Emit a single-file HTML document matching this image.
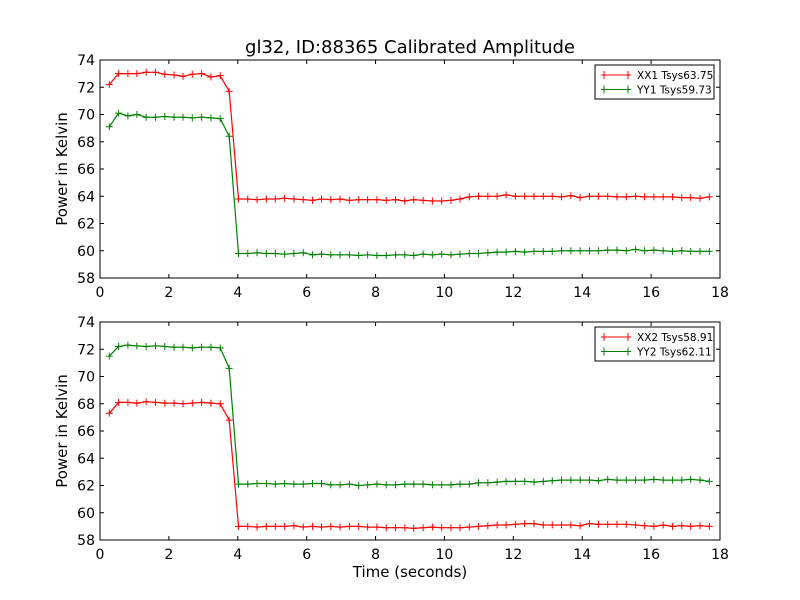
<!DOCTYPE html>
<html><head><meta charset="utf-8"><style>body{margin:0;background:#fff}svg{display:block;font-family:"DejaVu Sans","Liberation Sans",sans-serif}</style></head>
<body>
<svg id="chart" width="800" height="600" xmlns="http://www.w3.org/2000/svg">
<rect width="800" height="600" fill="#fff"/>
</svg>
<script>
const times=[0.27,0.54,0.81,1.07,1.34,1.61,1.88,2.15,2.41,2.68,2.95,3.22,3.49,3.75,4.02,4.29,4.56,4.83,5.09,5.36,5.63,5.90,6.17,6.43,6.70,6.97,7.24,7.51,7.77,8.04,8.31,8.58,8.85,9.11,9.38,9.65,9.92,10.19,10.45,10.72,10.99,11.26,11.53,11.79,12.06,12.33,12.60,12.87,13.13,13.40,13.67,13.94,14.21,14.47,14.74,15.01,15.28,15.55,15.81,16.08,16.35,16.62,16.89,17.15,17.42,17.69];
const xx1=[72.2,73.0,73.0,73.0,73.1,73.1,72.95,72.9,72.8,72.95,73.0,72.75,72.85,71.7,63.8,63.8,63.75,63.8,63.8,63.85,63.8,63.75,63.7,63.8,63.75,63.8,63.7,63.75,63.75,63.75,63.7,63.75,63.65,63.75,63.7,63.65,63.65,63.7,63.8,63.95,64.0,64.0,64.0,64.1,64.0,64.0,64.0,64.0,64.0,63.95,64.05,63.9,64.0,64.0,64.0,63.95,63.95,64.0,63.95,63.95,63.95,63.95,63.9,63.9,63.85,63.95];
const yy1=[69.1,70.1,69.9,70.0,69.8,69.8,69.85,69.8,69.8,69.75,69.8,69.75,69.7,68.4,59.8,59.8,59.85,59.8,59.8,59.75,59.8,59.85,59.7,59.75,59.7,59.7,59.7,59.65,59.7,59.65,59.65,59.7,59.7,59.65,59.75,59.7,59.75,59.7,59.75,59.8,59.8,59.85,59.9,59.9,59.95,59.9,59.95,59.95,59.95,60.0,60.0,60.0,60.0,60.0,60.05,60.05,60.0,60.1,60.0,60.05,60.0,59.95,60.0,59.95,59.95,59.95];
const xx2=[67.3,68.1,68.1,68.05,68.15,68.1,68.05,68.05,68.0,68.05,68.1,68.05,68.0,66.8,59.0,59.0,58.95,59.0,59.0,59.0,59.05,58.95,59.0,58.95,59.0,58.95,59.0,59.0,58.95,58.95,58.9,58.9,58.9,58.85,58.9,58.95,58.9,58.9,58.9,58.95,59.0,59.05,59.1,59.1,59.15,59.2,59.2,59.1,59.1,59.1,59.1,59.05,59.2,59.15,59.15,59.15,59.15,59.1,59.05,59.0,59.1,59.0,59.05,59.0,59.05,59.0];
const yy2=[71.5,72.2,72.3,72.25,72.2,72.25,72.2,72.15,72.15,72.1,72.15,72.15,72.1,70.6,62.1,62.1,62.15,62.15,62.1,62.15,62.1,62.1,62.15,62.15,62.05,62.05,62.1,62.0,62.05,62.1,62.05,62.05,62.1,62.1,62.1,62.05,62.05,62.05,62.1,62.1,62.2,62.2,62.25,62.3,62.3,62.3,62.25,62.3,62.35,62.4,62.4,62.4,62.4,62.35,62.45,62.4,62.4,62.4,62.4,62.45,62.4,62.4,62.4,62.45,62.4,62.3];
const xTicks=[0,2,4,6,8,10,12,14,16,18];
const yTicks=[58,60,62,64,66,68,70,72,74];
const legend1=["XX1 Tsys63.75","YY1 Tsys59.73"];
const legend2=["XX2 Tsys58.91","YY2 Tsys62.11"];

const svg=document.getElementById('chart');
const NS='http://www.w3.org/2000/svg';
function mk(tag,attrs,parent){const e=document.createElementNS(NS,tag);for(const k in attrs)e.setAttribute(k,attrs[k]);(parent||svg).appendChild(e);return e;}
const L=100,R=720,X0=0,X1=18,Y0=58,Y1=74;
function xs(v){return L+(v-X0)/(X1-X0)*(R-L);}

function panel(top,bottom,series,legendLabels,name,legTop){
  const g=mk('g',{});
  
  
  const ys=v=>bottom-(v-Y0)/(Y1-Y0)*(bottom-top);
  series.forEach((s,si)=>{
    const pts=times.map((t,i)=>xs(t).toFixed(1)+','+ys(s.v[i]).toFixed(1)).join(' ');
    const pl=mk('polyline',{points:pts,fill:'none',stroke:s.c,'stroke-width':1.2},g);
    
    
    times.forEach((t,i)=>{const x=xs(t),y=ys(s.v[i]);
      const m=mk('path',{d:`M${x-3.5},${y}h7M${x},${y-3.5}v7`,stroke:s.c,'stroke-width':1},g);
      
      
    });
  });
  const fr=mk('rect',{x:L,y:top,width:R-L,height:bottom-top,fill:'none',stroke:'#000','stroke-width':1},g);
  
  
  xTicks.forEach(v=>{const x=xs(v);
    mk('path',{d:`M${x},${bottom}v-4M${x},${top}v4`,stroke:'#000'},g);
    const t=mk('text',{x:x,y:bottom+19,'text-anchor':'middle','font-size':14},g);t.textContent=v;
    
    
  });
  yTicks.forEach(v=>{const y=ys(v);
    mk('path',{d:`M${L},${y}h4M${R},${y}h-4`,stroke:'#000'},g);
    const t=mk('text',{x:L-5,y:y+5,'text-anchor':'end','font-size':14},g);t.textContent=v;
    
    
  });
  const yl=mk('text',{x:0,y:0,transform:`translate(67,${(top+bottom)/2}) rotate(-90)`,'text-anchor':'middle','font-size':15},g);
  yl.textContent='Power in Kelvin';
  
  
  const lg=mk('g',{},g);
  
  
  mk('rect',{x:595,y:legTop,width:119,height:34,fill:'#fff',stroke:'#000'},lg);
  legendLabels.forEach((lab,i)=>{const y=legTop+10+i*14.5;
    mk('path',{d:`M601,${y}h30M604,${y-4}v8M628,${y-4}v8`,stroke:series[i].c},lg);
    const t=mk('text',{x:637,y:y+4,'font-size':10.5},lg);t.textContent=lab;
    
    
  });
}
panel(60,278,[{v:xx1,c:'#ff0000',n:'xx1'},{v:yy1,c:'#008000',n:'yy1'}],legend1,'top-panel',65);
panel(322,540,[{v:xx2,c:'#ff0000',n:'xx2'},{v:yy2,c:'#008000',n:'yy2'}],legend2,'bottom-panel',327);
const title=mk('text',{x:410,y:53,'text-anchor':'middle','font-size':18});
title.textContent='gl32, ID:88365 Calibrated Amplitude';


const xl=mk('text',{x:410,y:577,'text-anchor':'middle','font-size':15});
xl.textContent='Time (seconds)';


</script>
</body></html>
